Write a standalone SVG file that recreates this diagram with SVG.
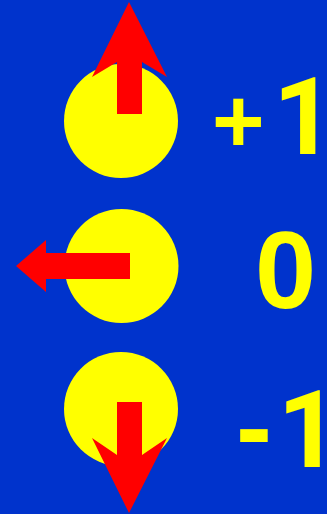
<svg xmlns="http://www.w3.org/2000/svg" width="327" height="514" viewBox="0 0 327 514">
<style>
.bg{fill:#0033CC}
.ball{fill:#FFFF00}
.arrow{fill:#FF0000}
.lbl{fill:#FFFF00;font-family:"Liberation Sans",Arial,sans-serif;font-weight:bold;font-size:108px}
.sign{font-size:90px}
.one{font-family:Roboto,"Liberation Sans",sans-serif;letter-spacing:-14px}
</style>
<rect class="bg" x="0" y="0" width="327" height="514"/>
<g id="spin-plus">
<circle class="ball" cx="121" cy="121" r="57"/>
<text class="lbl"><tspan class="sign" x="212" y="152">+</tspan><tspan class="one" x="273" y="154">1</tspan></text>
</g>
<g id="spin-zero">
<circle class="ball" cx="121.5" cy="266" r="57"/>
<text class="lbl" x="255" y="308" style="font-size:110px">0</text>
</g>
<g id="spin-minus">
<circle class="ball" cx="121" cy="409" r="57"/>
<text class="lbl"><tspan x="236" y="464">-</tspan><tspan class="one" x="277.5" y="467">1</tspan></text>
</g>
<g id="connectors">
<polygon class="arrow" points="129,2 167,77 142,62 142,114 117,114 117,62 92,77"/>
<polygon class="arrow" points="16,266 46,240 46,253 130,253 130,279 46,279 46,292"/>
<polygon class="arrow" points="129,513 167,438 142,455 142,402 117,402 117,455 92,438"/>
</g>
</svg>
